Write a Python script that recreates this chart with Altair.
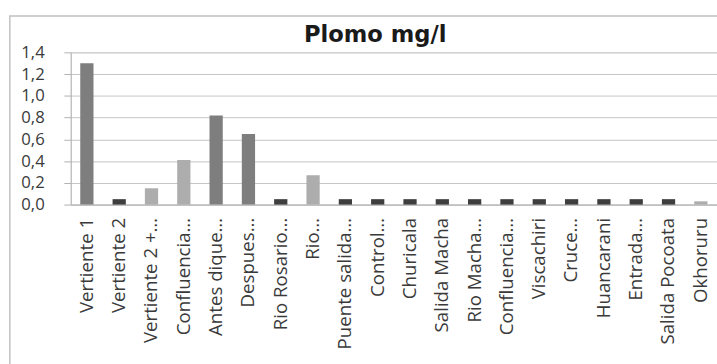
import json
import altair as alt
import pandas as pd

etiquetas = [
    "Vertiente 1", "Vertiente 2", "Vertiente 2 +…", "Confluencia…", "Antes dique…",
    "Despues…", "Rio Rosario…", "Rio…", "Puente salida…", "Control…",
    "Churicala", "Salida Macha", "Rio Macha…", "Confluencia…", "Viscachiri",
    "Cruce…", "Huancarani", "Entrada…", "Salida Pocoata", "Okhoruru",
]
plomo = [1.30, 0.05, 0.15, 0.41, 0.82, 0.65, 0.05, 0.27, 0.05, 0.05,
         0.05, 0.05, 0.05, 0.05, 0.05, 0.05, 0.05, 0.05, 0.05, 0.03]
tonos = ["medio", "oscuro", "claro", "claro", "medio", "medio", "oscuro", "claro",
         "oscuro", "oscuro", "oscuro", "oscuro", "oscuro", "oscuro", "oscuro",
         "oscuro", "oscuro", "oscuro", "oscuro", "claro"]
y_ticks = [0.0, 0.2, 0.4, 0.6, 0.8, 1.0, 1.2, 1.4]

df = pd.DataFrame({"idx": list(range(len(etiquetas))), "plomo": plomo, "tono": tonos})

label_expr = json.dumps(etiquetas, ensure_ascii=False) + "[datum.value]"

x = alt.X("idx:O", title=None,
          scale=alt.Scale(paddingInner=0.59, paddingOuter=0.295),
          axis=alt.Axis(labelExpr=label_expr, labelAngle=-90, labelAlign="right",
                        labelBaseline="middle", labelFont="Open Sans", labelFontSize=19,
                        labelColor="#3a3a3a", labelPadding=13, ticks=False,
                        domainColor="#b0b0b0", labelOverlap=False))
y = alt.Y("plomo:Q", title=None,
          scale=alt.Scale(domain=[0, 1.4], nice=False),
          axis=alt.Axis(values=y_ticks,
                        labelExpr="replace(format(datum.value, '.1f'), '.', ',')",
                        labelFont="Open Sans", labelFontSize=17, labelColor="#3a3a3a",
                        labelPadding=20, tickSize=7, tickColor="#b0b0b0",
                        domainColor="#b0b0b0", gridColor="#c4c4c4", grid=True))

bars = alt.Chart(df).mark_bar().encode(
    x=x, y=y,
    color=alt.Color("tono:N", legend=None,
                    scale=alt.Scale(domain=["medio", "oscuro", "claro"],
                                    range=["#7e7e7e", "#3e3e3e", "#adadad"])),
)

marco = alt.Chart(df.head(1)).mark_rect(fill=None, stroke="#c0c0c0", strokeWidth=1.5).encode(
    x=alt.value(-62), x2=alt.value(700), y=alt.value(-37), y2=alt.value(330)
)

chart = alt.layer(marco, bars).properties(
    width=658, height=155,
    padding={"left": 72, "top": 50, "right": 0, "bottom": 160},
    autosize="none",
    title=alt.TitleParams("Plomo mg/l", font="DejaVu Sans", fontSize=23, fontWeight="bold",
                          color="#1a1a1a", anchor="middle", dx=-19, offset=-32),
).configure_view(stroke=None).configure(background="white")

chart.save("out.html", embed_options={"renderer": "svg", "actions": False})
